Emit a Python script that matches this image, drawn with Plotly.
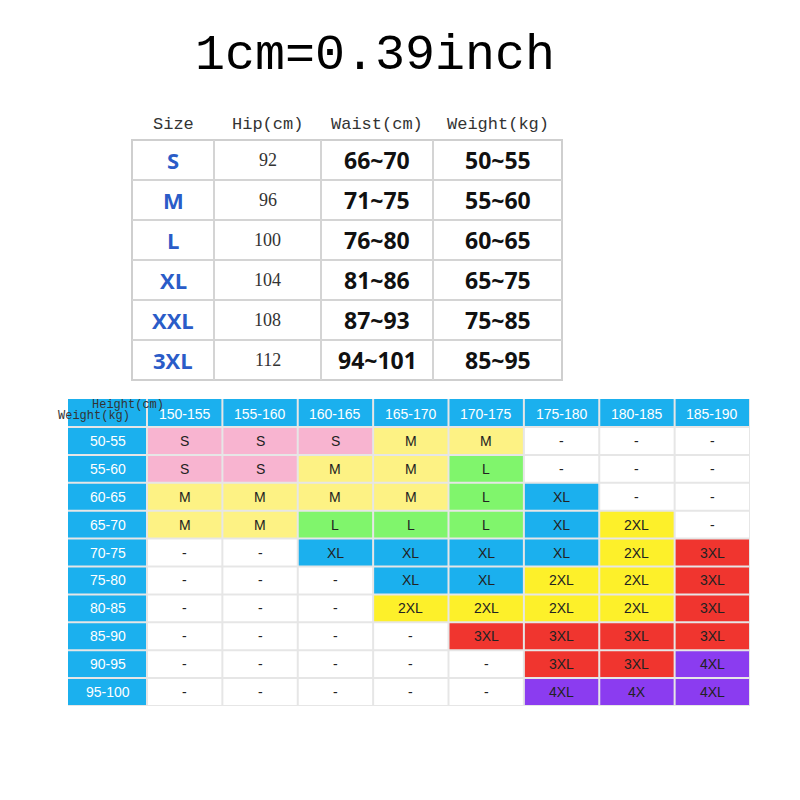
import plotly.graph_objects as go

title = "1cm=0.39inch"
top_headers = ["Size", "Hip(cm)", "Waist(cm)", "Weight(kg)"]
sizes = ["S", "M", "L", "XL", "XXL", "3XL"]
hips = ["92", "96", "100", "104", "108", "112"]
waists = ["66~70", "71~75", "76~80", "81~86", "87~93", "94~101"]
weights = ["50~55", "55~60", "60~65", "65~75", "75~85", "85~95"]

heights = ["150-155", "155-160", "160-165", "165-170", "170-175", "175-180", "180-185", "185-190"]
weight_rows = ["50-55", "55-60", "60-65", "65-70", "70-75", "75-80", "80-85", "85-90", "90-95", "95-100"]
grid = [
    ["S", "S", "S", "M", "M", "-", "-", "-"],
    ["S", "S", "M", "M", "L", "-", "-", "-"],
    ["M", "M", "M", "M", "L", "XL", "-", "-"],
    ["M", "M", "L", "L", "L", "XL", "2XL", "-"],
    ["-", "-", "XL", "XL", "XL", "XL", "2XL", "3XL"],
    ["-", "-", "-", "XL", "XL", "2XL", "2XL", "3XL"],
    ["-", "-", "-", "2XL", "2XL", "2XL", "2XL", "3XL"],
    ["-", "-", "-", "-", "3XL", "3XL", "3XL", "3XL"],
    ["-", "-", "-", "-", "-", "3XL", "3XL", "4XL"],
    ["-", "-", "-", "-", "-", "4XL", "4X", "4XL"],
]

BLUE = "#1bb0ee"
colors = {"S": "#f8b4d0", "M": "#fdf284", "L": "#80f56c", "XL": BLUE, "2XL": "#fdf02a",
          "3XL": "#f0352f", "4XL": "#8b3cf0", "4X": "#8b3cf0", "-": "#ffffff"}

fig = go.Figure()
shapes, ann = [], []

def rect(x0, y0, x1, y1, fill, line=None, lw=0):
    shapes.append(dict(type="rect", x0=x0, y0=y0, x1=x1, y1=y1, fillcolor=fill,
                       line=dict(color=line or fill, width=lw), layer="below"))

def text(x, y, s, size, color="#111", family="Liberation Sans", bold=False, xanchor="center"):
    ann.append(dict(x=x, y=y, text=f"<b>{s}</b>" if bold else s, showarrow=False,
                    font=dict(size=size, color=color, family=family), xanchor=xanchor, yanchor="middle"))

text(375, 55, title, 50, "#000", "Liberation Mono")

# top table
cx = [132, 214, 321, 433, 562]
ty0, rh = 140, 40
for j, h in enumerate(top_headers):
    text((cx[j] + cx[j + 1]) / 2, 124, h, 17, "#333", "Liberation Mono")
rect(cx[0], ty0, cx[-1], ty0 + rh * len(sizes), "#ffffff", "#cfcfcf", 2)
for i in range(len(sizes)):
    y = ty0 + rh * (i + 0.5)
    text((cx[0] + cx[1]) / 2, y, sizes[i], 22, "#2a5cc8", "Open Sans", True)
    text((cx[1] + cx[2]) / 2, y, hips[i], 18, "#333", "Liberation Serif")
    text((cx[2] + cx[3]) / 2, y, waists[i], 23, "#111", "Open Sans", True)
    text((cx[3] + cx[4]) / 2, y, weights[i], 23, "#111", "Open Sans", True)
for i in range(1, len(sizes)):
    shapes.append(dict(type="line", x0=cx[0], x1=cx[-1], y0=ty0 + rh * i, y1=ty0 + rh * i,
                       line=dict(color="#d4d4d4", width=2)))
for x in cx[1:-1]:
    shapes.append(dict(type="line", x0=x, x1=x, y0=ty0, y1=ty0 + rh * len(sizes),
                       line=dict(color="#d4d4d4", width=2)))

# bottom grid
gx0, lx1, gx1 = 68, 147, 750
gy0, hy1, gy1 = 399, 427, 706
cw = (gx1 - lx1) / len(heights)
rhh = (gy1 - hy1) / len(weight_rows)
rect(gx0, gy0, gx1, gy1, "#e6e6e6")
g = 1
rect(gx0, gy0, lx1 - g, hy1 - g, BLUE)
text(90, 405, "Height(cm)", 12, "#333", "Liberation Mono", xanchor="left")
text(56, 416, "Weight(kg)", 12, "#333", "Liberation Mono", xanchor="left")
for j, h in enumerate(heights):
    x0 = lx1 + cw * j
    rect(x0 + g, gy0, x0 + cw - g, hy1 - g, BLUE)
    text(x0 + cw / 2, (gy0 + hy1) / 2 + 1, h, 14, "#ffffff")
for i, w in enumerate(weight_rows):
    y0 = hy1 + rhh * i
    rect(gx0, y0 + g, lx1 - g, y0 + rhh - g, BLUE)
    text((gx0 + lx1) / 2, y0 + rhh / 2, w, 14, "#ffffff")
    for j in range(len(heights)):
        s = grid[i][j]
        x0 = lx1 + cw * j
        rect(x0 + g, y0 + g, x0 + cw - g, y0 + rhh - g, colors[s])
        text(x0 + cw / 2, y0 + rhh / 2, s, 14, "#222")

fig.add_trace(go.Scatter(x=[8, 808], y=[8, 808], mode="markers", marker=dict(opacity=0), hoverinfo="skip"))
fig.update_layout(width=800, height=800, margin=dict(l=0, r=0, t=0, b=0), showlegend=False,
                  plot_bgcolor="white", paper_bgcolor="white", shapes=shapes, annotations=ann,
                  xaxis=dict(range=[8, 808], visible=False, fixedrange=True),
                  yaxis=dict(range=[808, 8], visible=False, fixedrange=True))
fig.write_html("out.html")
